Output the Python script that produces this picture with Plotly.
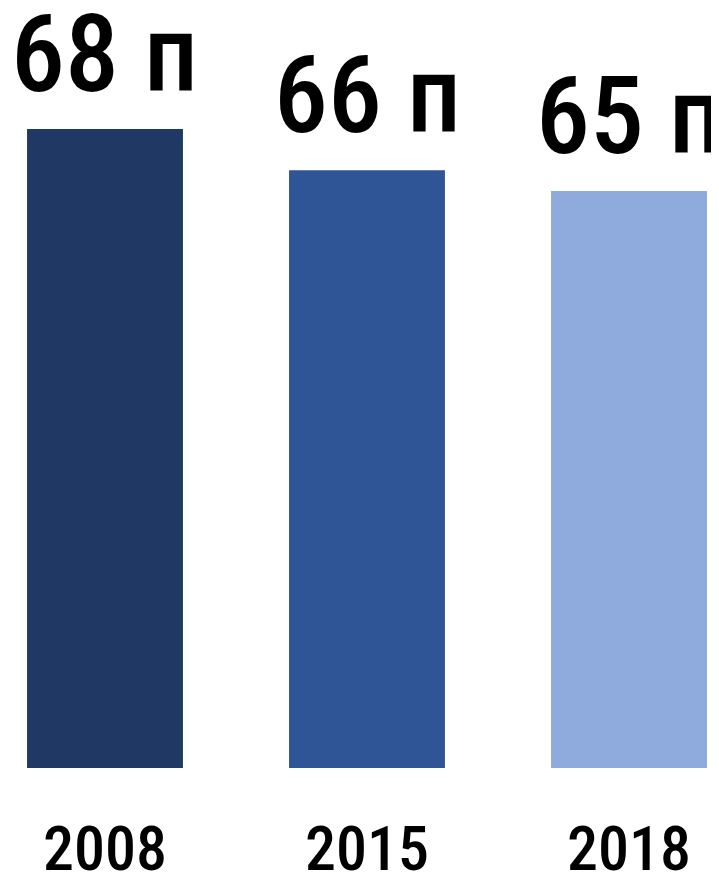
import plotly.graph_objects as go

years = ["2008", "2015", "2018"]
values = [68, 66, 65]
labels = ["68 п", "66 п", "65 п"]
colors = ["#1F3864", "#2F5597", "#8FAADC"]

FONT = "Roboto Condensed, Noto Sans ExtraCondensed, Noto Sans SemiCondensed, DejaVu Sans Condensed, sans-serif"

fig = go.Figure()
fig.add_trace(go.Bar(
    x=years, y=values,
    marker=dict(color=colors, line=dict(width=0)),
    width=0.595,
    hoverinfo="skip",
))

for i, (v, lab) in enumerate(zip(values, labels)):
    fig.add_annotation(
        x=i, y=v, text=lab, showarrow=False,
        xanchor="center", yanchor="bottom", yshift=10,
        font=dict(family=FONT, size=108, color="#000000", weight=500),
    )

fig.update_layout(
    width=711, height=870,
    margin=dict(l=0, r=0, t=0, b=110, autoexpand=False),
    paper_bgcolor="white", plot_bgcolor="white",
    showlegend=False,
    xaxis=dict(
        type="category", range=[-0.3702, 2.3435], automargin=False,
        showgrid=False, zeroline=False, showline=False, ticks="",
        tickfont=dict(family=FONT, size=62, color="#000000", weight=500),
        ticklabelstandoff=39,
    ),
    yaxis=dict(
        range=[37.1, 73.85], visible=False, showgrid=False, zeroline=False,
        automargin=False,
    ),
)

fig.write_html("out.html")
